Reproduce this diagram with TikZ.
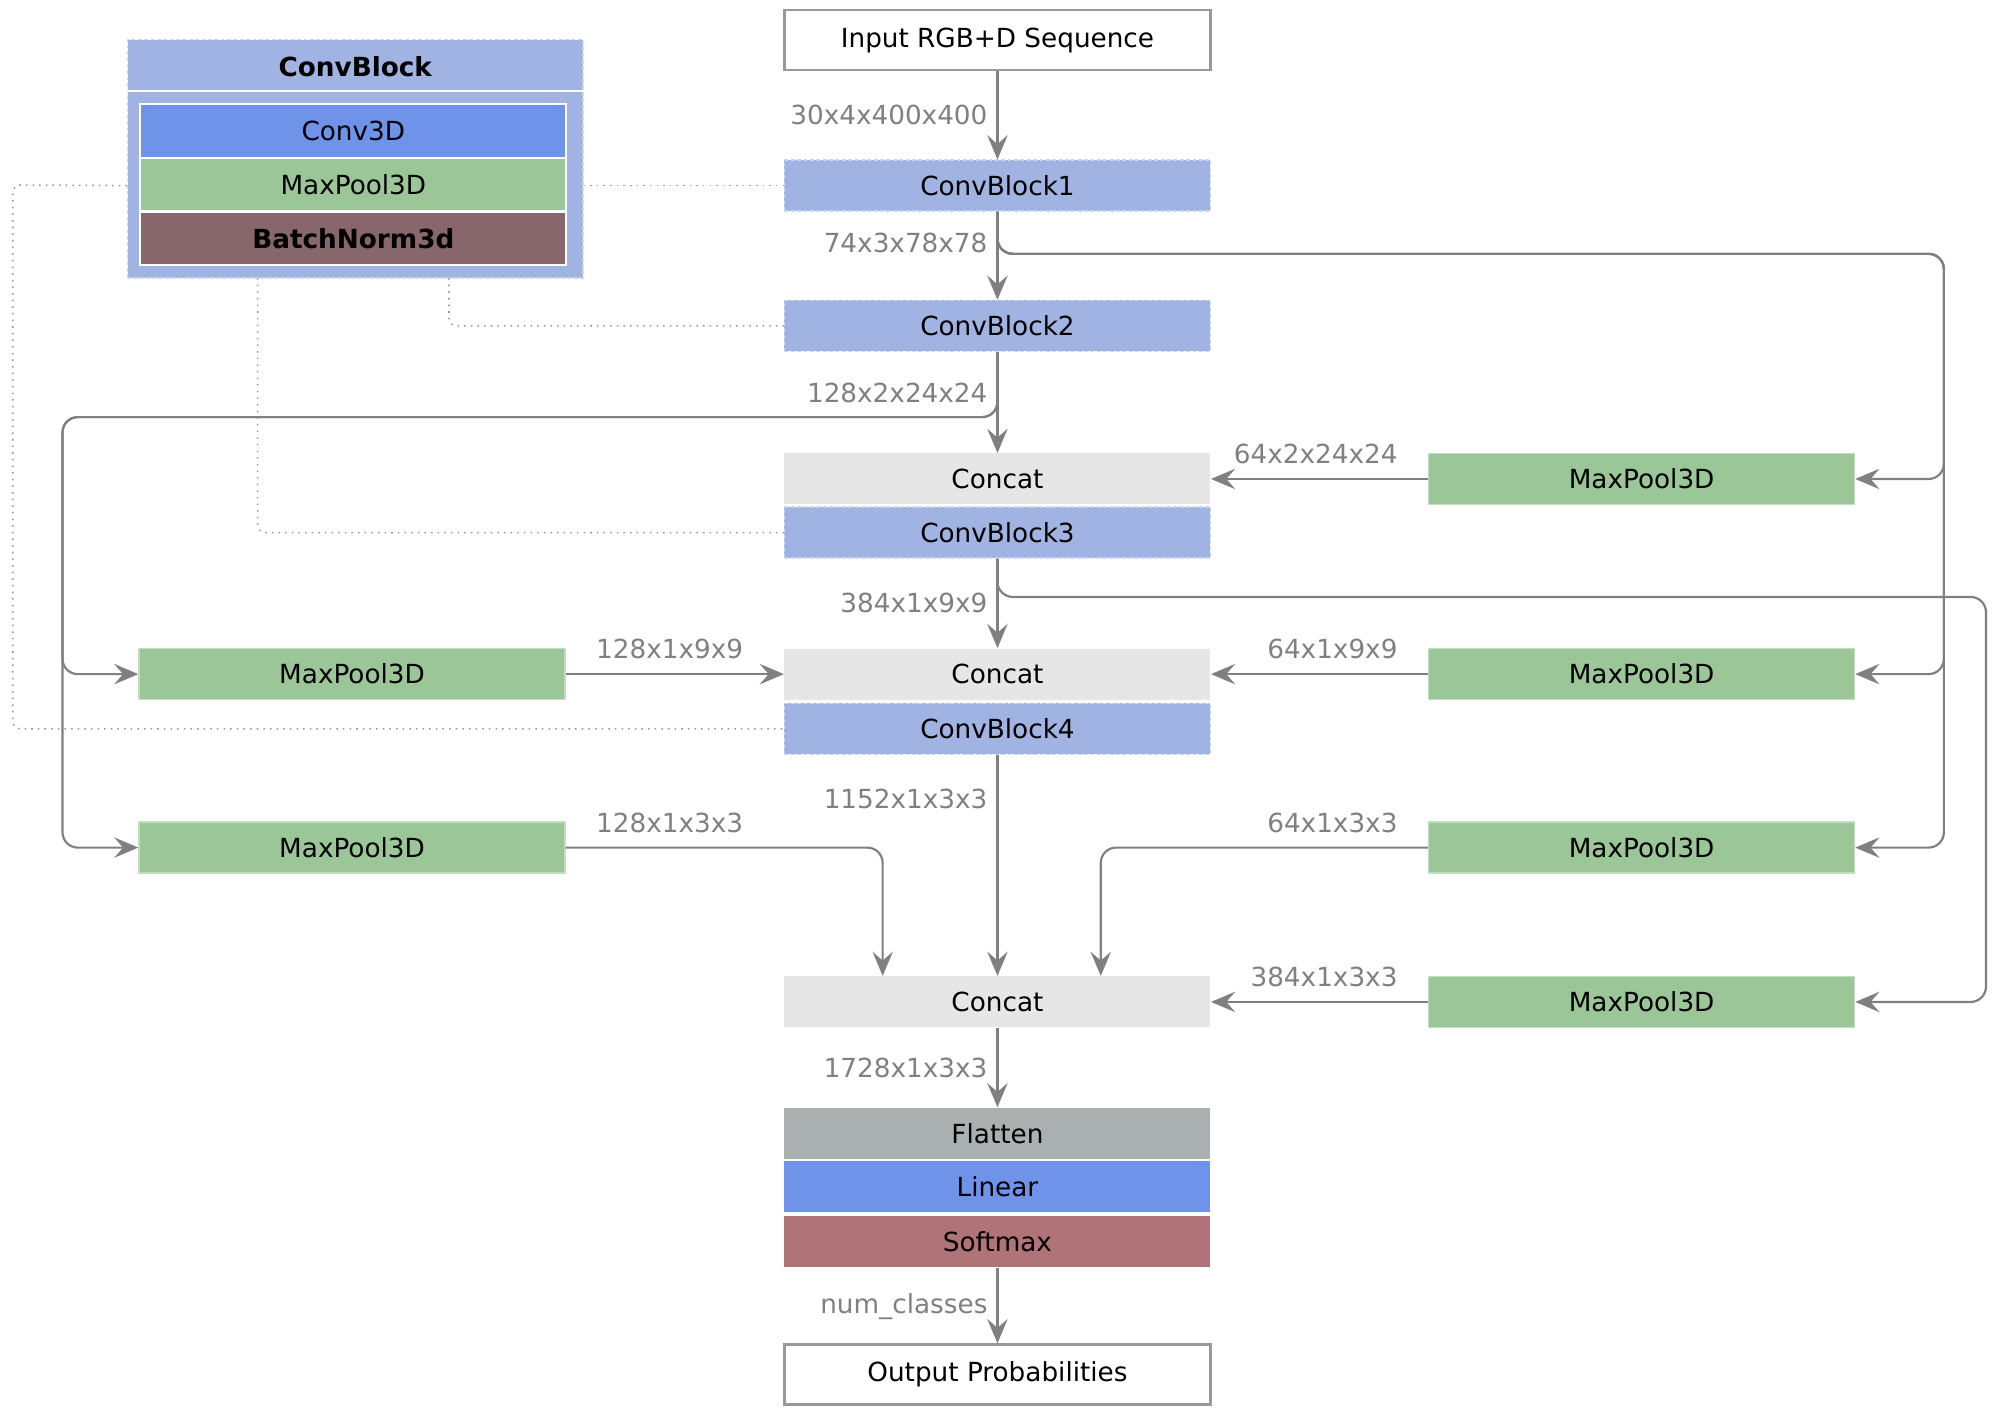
\documentclass[tikz,border=0pt]{standalone}
\usepackage{fontspec}
\setmainfont{DejaVu Sans}
\usetikzlibrary{arrows.meta, positioning, calc}

\definecolor{cbblue}{RGB}{161,179,227}
\definecolor{convblue}{RGB}{111,147,233}
\definecolor{poolgreen}{RGB}{155,198,152}
\definecolor{normbrown}{RGB}{135,103,107}
\definecolor{softrose}{RGB}{176,116,120}
\definecolor{flatgray}{RGB}{170,176,175}
\definecolor{catgray}{RGB}{230,230,230}
\definecolor{linkgray}{RGB}{128,128,128}

\begin{document}
\begin{tikzpicture}[x=0.5pt, y=-0.5pt,
    font=\fontsize{10.3}{12}\selectfont,
    layer/.style={minimum width=167pt, minimum height=20pt, inner sep=0pt},
    convblock/.style={layer, fill=cbblue, draw=white!45!cbblue, dash pattern=on 1.5pt off 1pt, line width=0.5pt},
    pool/.style={layer, fill=poolgreen, draw=white!40!poolgreen, line width=0.5pt},
    concat/.style={layer, fill=catgray},
    endbox/.style={layer, minimum height=23.5pt, fill=white, draw=linkgray!80, line width=0.9pt},
    legrow/.style={layer, minimum height=21pt, draw=white, line width=0.8pt},
    conn/.style={draw=linkgray, line width=0.85pt, rounded corners=6pt,
        -{Stealth[length=9.5pt, width=8pt, inset=3.5pt]}},
    dotline/.style={draw=linkgray!80, line width=0.6pt, dotted, rounded corners=3pt},
    lab/.style={text=linkgray, inner sep=3.5pt}]
    \useasboundingbox (0,0) rectangle (1568,1110);

    % ConvBlock legend
    \node[convblock, minimum width=178.5pt, minimum height=93.5pt] (leg) at (278.5,124.5) {};
    \node[font=\fontsize{10.3}{12}\selectfont\bfseries] (leghead) at (278.5,52.5) {ConvBlock};
    \draw[white, line width=1pt] ($(leg.north west)+(0,41)$) -- ($(leg.north east)+(0,41)$);
    \node[legrow, fill=convblue] (legconv) at (277,102.5) {Conv3D};
    \node[legrow, fill=poolgreen] (legpool) at (277,144.5) {MaxPool3D};
    \node[legrow, fill=normbrown, font=\fontsize{10.3}{12}\selectfont\bfseries] (legnorm) at (277,187) {BatchNorm3d};

    % main column
    \node[endbox] (input) at (782,31.5) {Input RGB+D Sequence};
    \node[convblock] (cb1) at (782,145.5) {ConvBlock1};
    \node[convblock] (cb2) at (782,255.5) {ConvBlock2};
    \node[concat] (cat1) at (782,375.5) {Concat};
    \node[convblock] (cb3) at (782,417.5) {ConvBlock3};
    \node[concat] (cat2) at (782,528.5) {Concat};
    \node[convblock] (cb4) at (782,571.5) {ConvBlock4};
    \node[concat] (cat3) at (782,785.5) {Concat};
    \node[layer, fill=flatgray] (flat) at (782,888.5) {Flatten};
    \node[layer, fill=convblue] (lin) at (782,930.5) {Linear};
    \node[layer, fill=softrose] (soft) at (782,973.5) {Softmax};
    \node[endbox] (output) at (782,1077.5) {Output Probabilities};

    % pooling branches
    \node[pool] (mpr1) at (1287,375.5) {MaxPool3D};
    \node[pool] (mpr2) at (1287,528.5) {MaxPool3D};
    \node[pool] (mpr3) at (1287,664.5) {MaxPool3D};
    \node[pool] (mpr4) at (1287,785.5) {MaxPool3D};
    \node[pool] (mpl1) at (276,528.5) {MaxPool3D};
    \node[pool] (mpl2) at (276,664.5) {MaxPool3D};

    % bus corners
    \coordinate (rbus1) at (1524,199);
    \coordinate (lbus) at (49,327);
    \coordinate (rbus2) at (1557,468);

    % main flow
    \draw[conn] (input) -- node[lab, left] {30x4x400x400} (cb1);
    \draw[conn] (cb1) -- node[lab, left, pos=0.36] {74x3x78x78} (cb2);
    \draw[conn] (cb2) -- node[lab, left, pos=0.41] {128x2x24x24} (cat1);
    \draw[conn] (cb3) -- node[lab, left] {384x1x9x9} (cat2);
    \draw[conn] (cb4) -- node[lab, left, pos=0.2] {1152x1x3x3} (cat3);
    \draw[conn] (cat3) -- node[lab, left] {1728x1x3x3} (flat);
    \draw[conn] (soft) -- node[lab, left, pos=0.52] {num\_classes} (output);

    % skip connections
    \draw[conn] (cb1.south) |- (rbus1) |- (mpr1.east);
    \draw[conn] (cb1.south) |- (rbus1) |- (mpr2.east);
    \draw[conn] (cb1.south) |- (rbus1) |- (mpr3.east);
    \draw[conn] (cb2.south) |- (lbus) |- (mpl1.west);
    \draw[conn] (cb2.south) |- (lbus) |- (mpl2.west);
    \draw[conn] (cb3.south) |- (rbus2) |- (mpr4.east);

    % pooled inputs to concat
    \draw[conn] (mpl1) -- node[lab, pos=0, anchor=south west, xshift=8pt, yshift=2pt] {128x1x9x9} (cat2);
    \draw[conn] (mpl2.east) -| node[lab, pos=0, anchor=south west, xshift=8pt, yshift=2pt] {128x1x3x3} ($(cat3.north)+(-90,0)$);
    \draw[conn] (mpr1) -- node[lab, pos=0, anchor=south east, xshift=-8pt, yshift=2pt] {64x2x24x24} (cat1);
    \draw[conn] (mpr2) -- node[lab, pos=0, anchor=south east, xshift=-8pt, yshift=2pt] {64x1x9x9} (cat2);
    \draw[conn] (mpr3.west) -| node[lab, pos=0, anchor=south east, xshift=-8pt, yshift=2pt] {64x1x3x3} ($(cat3.north)+(81,0)$);
    \draw[conn] (mpr4) -- node[lab, pos=0, anchor=south east, xshift=-8pt, yshift=2pt] {384x1x3x3} (cat3);

    % legend references
    \coordinate (legb1) at (352,218);
    \coordinate (legb2) at (202,218);
    \coordinate (legl) at (10,145);
    \draw[dotline] (leg.east |- cb1.west) -- (cb1.west);
    \draw[dotline] (legb1) |- (cb2.west);
    \draw[dotline] (legb2) |- (cb3.west);
    \draw[dotline] (leg.west |- cb1.west) -- (legl) |- (cb4.west);
\end{tikzpicture}
\end{document}
